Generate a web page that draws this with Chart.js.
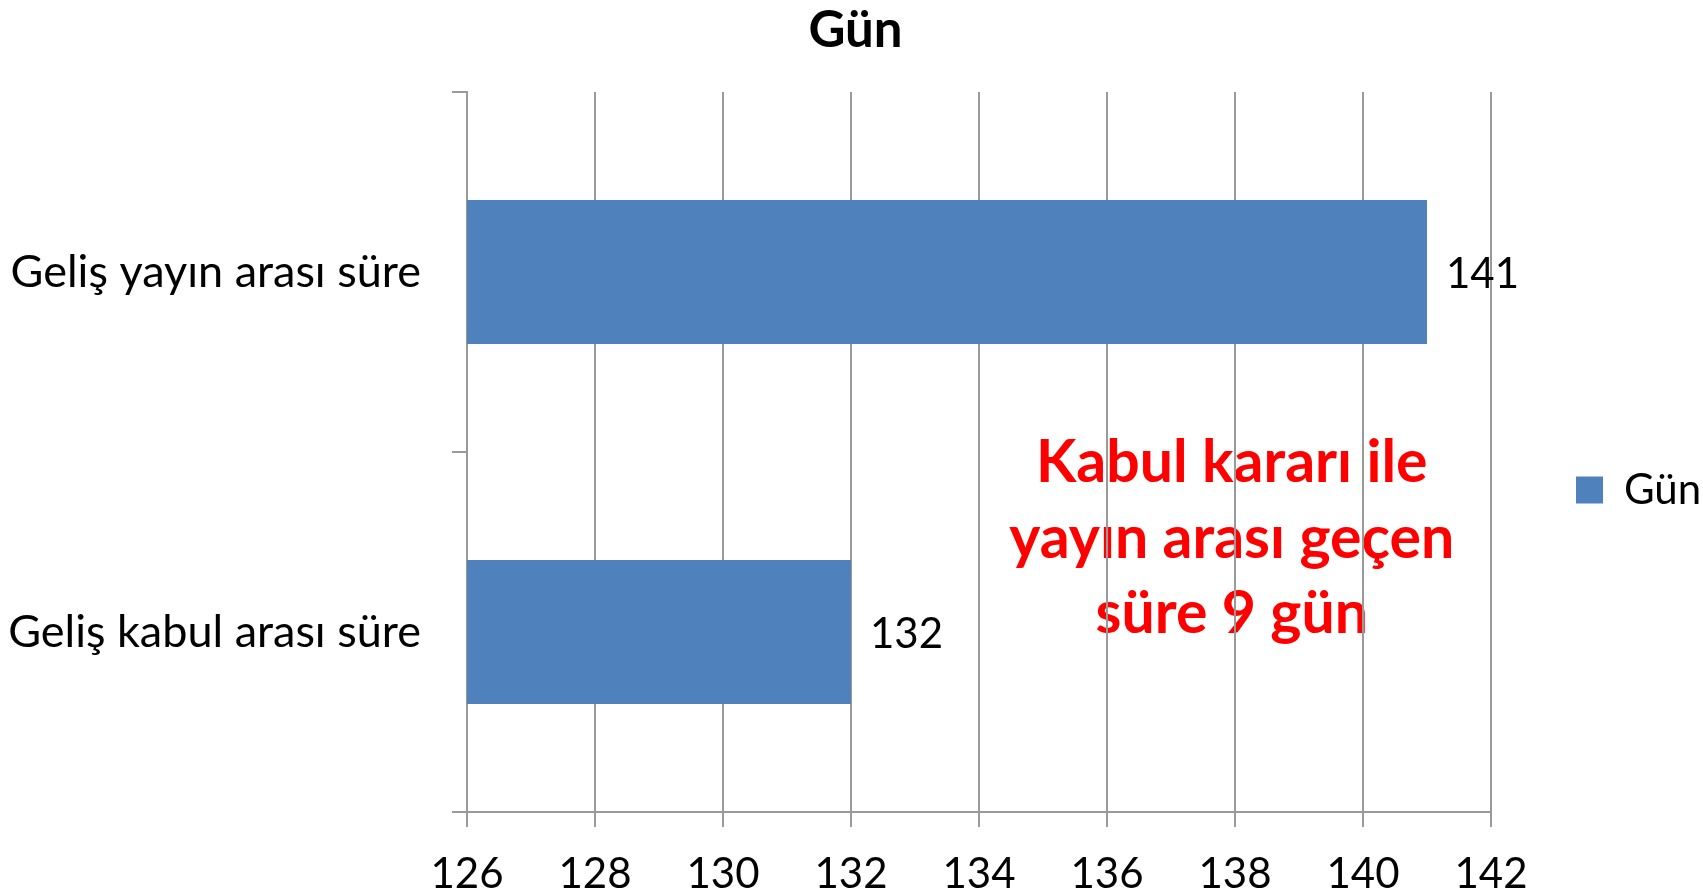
<!DOCTYPE html>
<html>
<head>
<meta charset="utf-8">
<script src="https://cdn.jsdelivr.net/npm/chart.js@4"></script>
<style>
  html, body { margin: 0; padding: 0; background: #ffffff; }
  #wrap { width: 1703px; height: 895px; position: relative; }
</style>
</head>
<body>
<div id="wrap"><canvas id="gunChart"></canvas></div>
<script>
const categories = ['Geliş yayın arası süre', 'Geliş kabul arası süre'];
const gunValues = [141, 132];
const seriesName = 'Gün';
const xMin = 126;
const xMax = 142;
const xStep = 2;
const noteLines = ['Kabul kararı ile', 'yayın arası geçen', 'süre 9 gün'];

const FONT = 'Lato, "Noto Sans", sans-serif';
const GRID = '#9a9a9a';
const BAR = '#4f81bd';

// values next to the bar ends
const valueLabels = {
  id: 'valueLabels',
  afterDatasetsDraw(chart) {
    const ctx = chart.ctx;
    const meta = chart.getDatasetMeta(0);
    ctx.save();
    ctx.font = '42px ' + FONT;
    ctx.fillStyle = '#000000';
    ctx.textAlign = 'left';
    ctx.textBaseline = 'middle';
    meta.data.forEach((bar, i) => {
      ctx.fillText(String(gunValues[i]), bar.x + 19, bar.y + 2);
    });
    ctx.restore();
  }
};

// red note, drawn before the grid so the gridlines pass over it
const redNote = {
  id: 'redNote',
  beforeDraw(chart) {
    const { ctx, chartArea } = chart;
    const xs = chart.scales.x;
    const cx = xs.getPixelForValue(137.95);
    const baselines = [0.5413, 0.6472, 0.7514];
    ctx.save();
    ctx.font = 'bold 59px ' + FONT;
    ctx.fillStyle = '#ff0000';
    ctx.textAlign = 'center';
    ctx.textBaseline = 'alphabetic';
    noteLines.forEach((line, i) => {
      ctx.fillText(line, cx, chartArea.top + baselines[i] * (chartArea.bottom - chartArea.top));
    });
    ctx.restore();
  }
};

new Chart(document.getElementById('gunChart'), {
  type: 'bar',
  data: {
    labels: categories,
    datasets: [{
      label: seriesName,
      data: gunValues,
      backgroundColor: BAR,
      borderWidth: 0,
      categoryPercentage: 1,
      barPercentage: 0.4
    }]
  },
  options: {
    indexAxis: 'y',
    responsive: true,
    maintainAspectRatio: false,
    animation: false,
    layout: { padding: { left: 8, top: 0, right: 0, bottom: 0 } },
    plugins: {
      title: {
        display: true,
        text: 'Gün',
        color: '#000000',
        font: { family: FONT, size: 51, weight: 'bold' },
        padding: { top: 0, bottom: 30.8 }
      },
      legend: {
        position: 'right',
        maxWidth: 212,
        title: { display: true, text: ' ', font: { size: 10 }, padding: { top: 0, bottom: 73 } },
        labels: {
          boxWidth: 27,
          boxHeight: 27,
          padding: 85,
          color: '#000000',
          font: { family: FONT, size: 42 }
        }
      },
      tooltip: { enabled: false }
    },
    scales: {
      x: {
        type: 'linear',
        min: xMin,
        max: xMax,
        afterFit: (scale) => { scale.height = 83; },
        ticks: {
          stepSize: xStep,
          color: '#000000',
          padding: 22,
          font: { family: FONT, size: 42 }
        },
        grid: { color: GRID, lineWidth: 2, tickLength: 15 },
        border: { display: true, color: GRID, width: 2 }
      },
      y: {
        afterFit: (scale) => { scale.width = 459; },
        ticks: {
          color: '#000000',
          padding: 31,
          font: { family: FONT, size: 45 }
        },
        grid: { drawOnChartArea: false, color: GRID, lineWidth: 2, tickLength: 15 },
        border: { display: true, color: GRID, width: 2 }
      }
    }
  },
  plugins: [valueLabels, redNote]
});
</script>
</body>
</html>
